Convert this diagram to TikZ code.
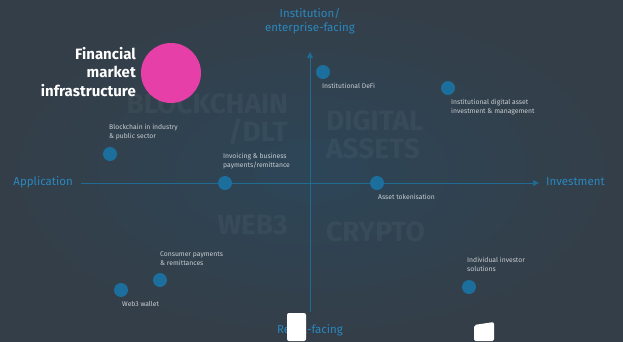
\documentclass[tikz,border=0pt]{standalone}
\usepackage{fontspec}
\setmainfont{Fira Sans}
\usetikzlibrary{arrows.meta}
\definecolor{bgcol}{HTML}{343E48}
\definecolor{glowcol}{HTML}{2C4658}
\definecolor{axiscol}{HTML}{1F6B92}
\definecolor{dotcol}{HTML}{1C6E9C}
\definecolor{axlabel}{HTML}{2A88BE}
\definecolor{fmicol}{HTML}{E63FA8}
\definecolor{labelcol}{HTML}{C9CDD2}
\tikzset{
  dot/.style={circle, fill=dotcol, minimum size=14pt, inner sep=0pt},
  itemlabel/.style={anchor=north west, inner sep=0pt, align=left, text=labelcol,
    font=\fontsize{6.8}{9}\selectfont},
  axislabel/.style={inner sep=0pt, text=axlabel, align=center,
    font=\fontsize{11.5}{14}\selectfont},
  watermark/.style={inner sep=0pt, text=white, text opacity=0.045, align=right,
    font=\bfseries\fontsize{28}{28}\selectfont}
}
\begin{document}
\begin{tikzpicture}[x=1pt,y=-1pt]
  \useasboundingbox (0,0) rectangle (623,341);
  % background with a soft glow round the centre
  \shade [inner color=glowcol, outer color=bgcol] (0,0) rectangle (623,341);

  % watermarks
  \node [watermark, anchor=east] (blockchain) at (288,119) {BLOCKCHAIN\\/DLT};
  \node [watermark, anchor=west, align=left] (digital) at (326,135) {DIGITAL\\ASSETS};
  \node [watermark, anchor=east] (web3) at (288,225) {WEB3};
  \node [watermark, anchor=west] (crypto) at (326,232) {CRYPTO};

  % axes
  \coordinate (top) at (310,52);
  \coordinate (bottom) at (310,312);
  \coordinate (left) at (81,183);
  \coordinate (right) at (539,183);
  \draw [axiscol, line width=0.7pt, -{Triangle[length=6pt,width=6pt]}] (bottom) -- (top);
  \draw [axiscol, line width=0.7pt, -{Triangle[length=6pt,width=6pt]}] (left) -- (right);

  \node [axislabel] (institution) at (310,21) {Institution/\\enterprise-facing};
  \node [axislabel, anchor=east] (application) at (73,182) {Application};
  \node [axislabel, anchor=west] (investment) at (546,182) {Investment};
  \node [axislabel] (retail) at (310,330) {Retail-facing};

  % points
  \node [dot] (defi) at (323,72) {};
  \node [dot] (instasset) at (448,88) {};
  \node [dot] (industry) at (110,154) {};
  \node [dot] (invoicing) at (225,183) {};
  \node [dot] (tokenisation) at (377,183) {};
  \node [dot] (consumer) at (160,280) {};
  \node [dot] (wallet) at (121,290) {};
  \node [dot] (individual) at (469,287) {};

  \node [itemlabel] (defi label) at (322,83) {Institutional DeFi};
  \node [itemlabel] (instasset label) at (451,99) {Institutional digital asset\\investment \& management};
  \node [itemlabel] (industry label) at (109,124) {Blockchain in industry\\\& public sector};
  \node [itemlabel] (invoicing label) at (223,153) {Invoicing \& business\\payments/remittance};
  \node [itemlabel] (tokenisation label) at (378,194) {Asset tokenisation};
  \node [itemlabel] (consumer label) at (160,252) {Consumer payments\\\& remittances};
  \node [itemlabel] (wallet label) at (122,301) {Web3 wallet};
  \node [itemlabel] (individual label) at (467,257) {Individual investor\\solutions};

  % financial market infrastructure
  \node [circle, fill=fmicol, minimum size=60pt, inner sep=0pt] (fmi) at (171,73) {};
  \node [anchor=east, inner sep=0pt, align=right, text=white,
    font=\bfseries\fontsize{15}{18.5}\selectfont] (fmi label) at (136,72)
    {Financial\\market\\infrastructure};

  % white shapes at the foot
  \fill [white, rounded corners=2pt] (287,341) -- (287,313) -- (306,313) -- (306,341) -- cycle;
  \fill [white, rounded corners=2pt] (474,341) -- (474,325) -- (494,322) -- (494,341) -- cycle;
\end{tikzpicture}
\end{document}
